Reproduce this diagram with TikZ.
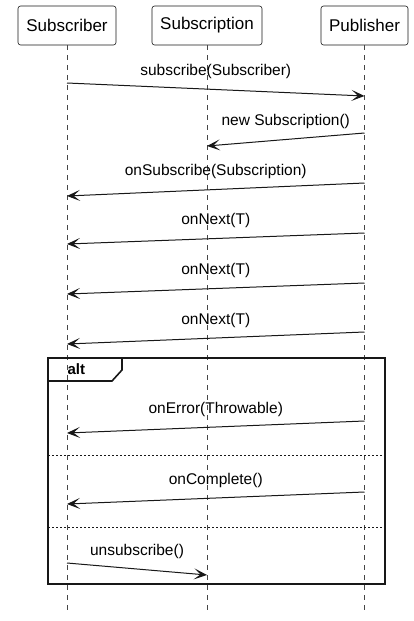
\documentclass[tikz,border=0pt]{standalone}
\usepackage{fontspec}
\setmainfont{Liberation Sans}
\usetikzlibrary{arrows.meta, positioning}
\definecolor{ink}{HTML}{181818}
\tikzset{
    participant/.style={
        rectangle,
        draw=ink,
        line width=0.6pt,
        rounded corners=2.5pt,
        minimum height=39pt,
        fill=white,
        font=\fontsize{17}{17}\selectfont
    },
    lifeline/.style={
        draw=ink!80,
        line width=0.5pt,
        dash pattern=on 5pt off 5pt
    },
    msg/.style={
        draw=ink,
        line width=1pt,
        -{Stealth[length=13pt, width=11pt, inset=6.5pt]}
    },
    msglabel/.style={
        font=\fontsize{15.5}{15.5}\selectfont,
        inner sep=0pt,
        midway,
        yshift=18pt
    },
    frame/.style={
        draw=ink,
        line width=1.6pt
    },
    separator/.style={
        draw=ink,
        line width=0.7pt,
        dash pattern=on 2pt off 2pt
    }
}
\begin{document}
\begin{tikzpicture}[x=1pt, y=-1pt]
\useasboundingbox (0,0) rectangle (414,621);

% Participants
\node[participant, minimum width=98pt] (subscriber) at (67,25.5) {Subscriber};
\node[participant, minimum width=110pt] (subscription) at (207,25.5) {Subscription};
\node[participant, minimum width=87pt] (publisher) at (364.5,25.5) {Publisher};

% Lifelines
\coordinate (subscriber_end) at (67,615);
\coordinate (subscription_end) at (207,615);
\coordinate (publisher_end) at (364.5,615);
\draw[lifeline] (subscriber.south) -- (subscriber_end);
\draw[lifeline] (subscription.south) -- (subscription_end);
\draw[lifeline] (publisher.south) -- (publisher_end);

% Message points on the lifelines
\coordinate (s1) at (67,83);      \coordinate (p1) at (364.5,96);
\coordinate (p2) at (364.5,133);  \coordinate (n2) at (207,146);
\coordinate (p3) at (364.5,183);  \coordinate (s3) at (67,196);
\coordinate (p4) at (364.5,233);  \coordinate (s4) at (67,244);
\coordinate (p5) at (364.5,283);  \coordinate (s5) at (67,294);
\coordinate (p6) at (364.5,332);  \coordinate (s6) at (67,344);
\coordinate (p7) at (364.5,421);  \coordinate (s7) at (67,433);
\coordinate (p8) at (364.5,492);  \coordinate (s8) at (67,504);
\coordinate (s9) at (67,563);     \coordinate (n9) at (207,575);

% Messages
\draw[msg] (s1) -- node[msglabel] {subscribe(Subscriber)} (p1);
\draw[msg] (p2) -- node[msglabel] {new Subscription()} (n2);
\draw[msg] (p3) -- node[msglabel] {onSubscribe(Subscription)} (s3);
\draw[msg] (p4) -- node[msglabel] {onNext(T)} (s4);
\draw[msg] (p5) -- node[msglabel] {onNext(T)} (s5);
\draw[msg] (p6) -- node[msglabel] {onNext(T)} (s6);

% alt fragment
\coordinate (alt_nw) at (48,358);
\coordinate (alt_se) at (385,584);
\draw[frame] (alt_nw) rectangle (alt_se);
\draw[frame] (48,381) -- (112,381) -- (122,370) -- (122,358);
\node[font=\fontsize{15}{15}\selectfont\bfseries, anchor=west] (alt) at (64,369.5) {alt};
\draw[separator] (48,455) -- (385,455);
\draw[separator] (48,527) -- (385,527);

\draw[msg] (p7) -- node[msglabel] {onError(Throwable)} (s7);
\draw[msg] (p8) -- node[msglabel] {onComplete()} (s8);
\draw[msg] (s9) -- node[msglabel] {unsubscribe()} (n9);

\end{tikzpicture}
\end{document}
